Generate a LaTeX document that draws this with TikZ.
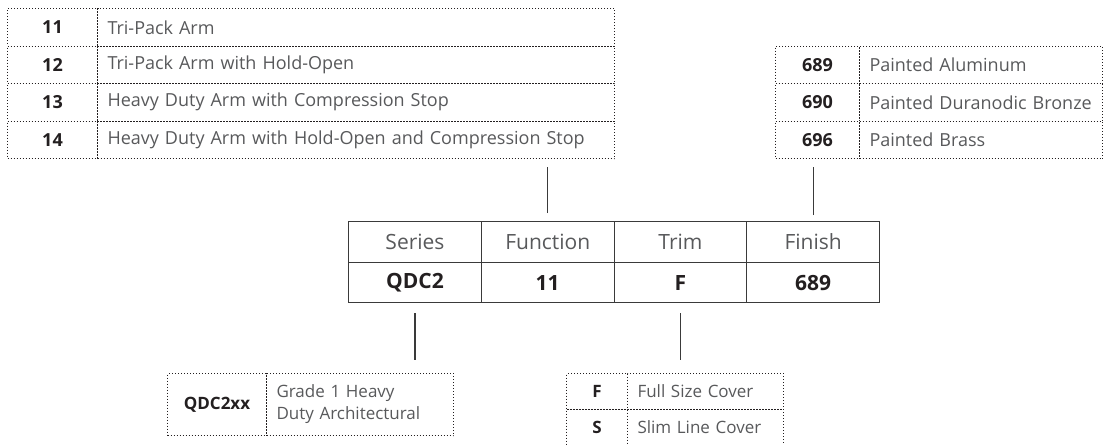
\documentclass[tikz,border=0pt]{standalone}
\usepackage{fontspec}
\setmainfont{Open Sans}
\definecolor{ink}{HTML}{231F20}
\definecolor{muted}{HTML}{58595B}
\definecolor{rule}{HTML}{3A3A3A}

\begin{document}
\begin{tikzpicture}[x=0.5pt,y=-0.5pt,font=\fontsize{8.5}{11}\selectfont,
    cell/.style={draw=ink,dash pattern=on 0.5pt off 1pt,line width=0.5pt,inner sep=0pt,anchor=north west},
    code/.style={cell,text=ink,font=\fontsize{8.5}{11}\selectfont\bfseries,align=center},
    desc/.style={cell,text=muted,inner xsep=5pt,align=left},
    big/.style={font=\fontsize{9}{11}\selectfont},
    bigcode/.style={code,font=\fontsize{9}{11}\selectfont\bfseries},
    part/.style={draw=rule,line width=0.6pt,inner sep=0pt,anchor=north west,minimum width=66.375pt},
    link/.style={draw=rule,line width=0.6pt}]
      \useasboundingbox (0,0) rectangle (1105,445);
      % function options
      \foreach \r/\k/\d in {1/11/Tri-Pack Arm,2/12/Tri-Pack Arm with Hold-Open,
          3/13/Heavy Duty Arm with Compression Stop,4/14/Heavy Duty Arm with Hold-Open and Compression Stop}{
        \node[bigcode,minimum width=45pt,minimum height=18.75pt] (fk\r) at (7,8+37.5*\r-37.5) {\k};
        \node[desc,big,text width=248.5pt,minimum height=18.75pt] (fd\r) at (97,8+37.5*\r-37.5) {\d};}
      % finish options
      \foreach \r/\k/\d in {1/689/Painted Aluminum,2/690/Painted Duranodic Bronze,3/696/Painted Brass}{
        \node[bigcode,minimum width=42pt,minimum height=18.75pt] (nk\r) at (775,45.5+37.5*\r-37.5) {\k};
        \node[desc,big,text width=111.5pt,minimum height=18.75pt] (nd\r) at (859,45.5+37.5*\r-37.5) {\d};}
      % part number
      \foreach \c/\h/\v in {1/Series/QDC2,2/Function/11,3/Trim/F,4/Finish/689}{
        \node[part,minimum height=20.5pt,text=muted,font=\fontsize{10.5}{12}\selectfont] (h\c) at (348+132.75*\c-132.75,221) {\h};
        \node[part,minimum height=20pt,text=ink,font=\fontsize{10.5}{12}\selectfont\bfseries] (v\c) at (348+132.75*\c-132.75,262) {\v};}
      % series
      \node[code,minimum width=49.5pt,minimum height=31pt] (sk) at (167,373) {QDC2xx};
      \node[desc,text width=83.5pt,minimum height=31pt] (sd) at (266,373) {Grade 1 Heavy\\Duty Architectural};
      % trim options
      \foreach \r/\k/\d in {1/F/Full Size Cover,2/S/Slim Line Cover}{
        \node[code,minimum width=30.5pt,minimum height=18pt] (tk\r) at (566,373+36*\r-36) {\k};
        \node[desc,text width=68pt,minimum height=18pt] (td\r) at (627,373+36*\r-36) {\d};}
      \draw[link] ([yshift=4pt]h2.north) -- ([yshift=-4pt]h2.north |- fd4.south);
      \draw[link] ([yshift=3pt]h4.north) -- ([yshift=-4pt]h4.north |- nd3.south);
      \draw[link] ([yshift=-5pt]v1.south) -- ([yshift=6.5pt]v1.south |- sk.north);
      \draw[link] ([yshift=-5pt]v3.south) -- ([yshift=6.5pt]v3.south |- tk1.north);
    \end{tikzpicture}
\end{document}
